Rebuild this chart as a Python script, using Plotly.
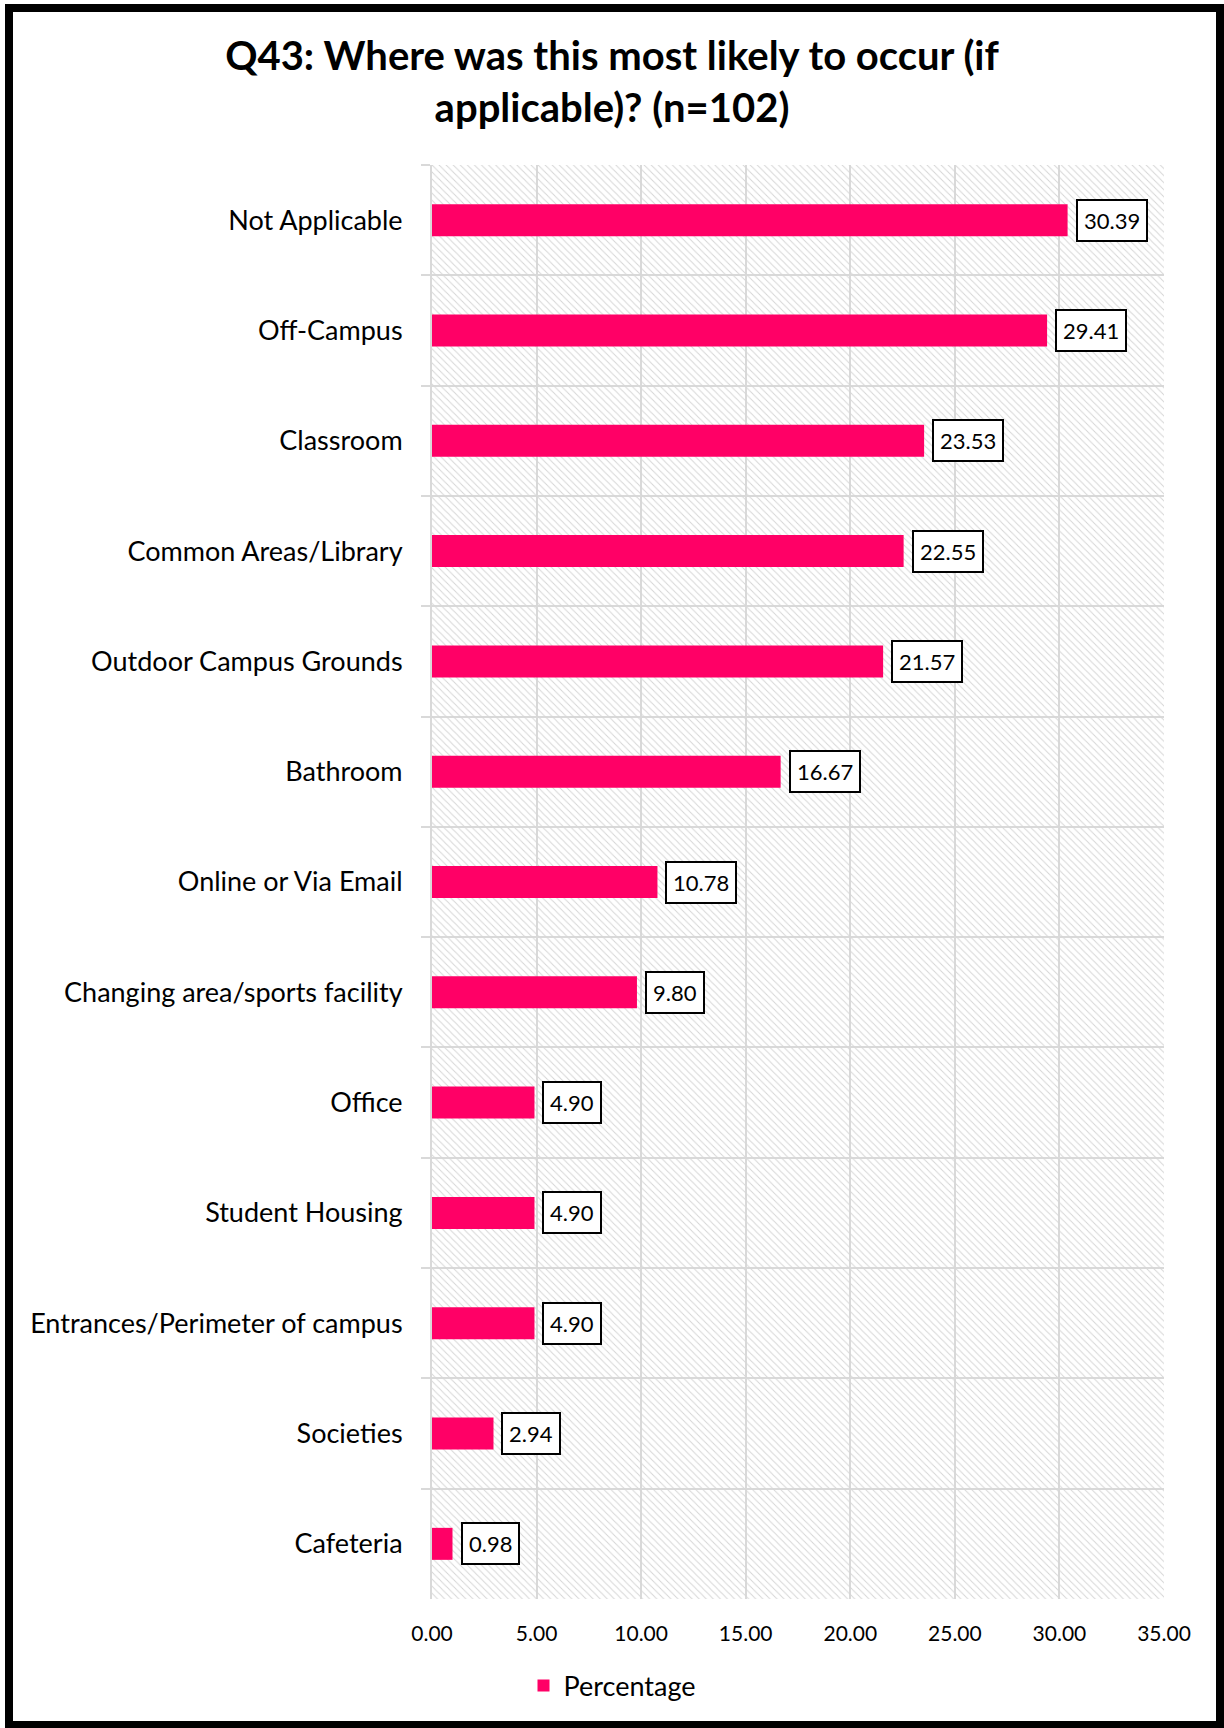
import plotly.graph_objects as go

categories = [
    "Not Applicable", "Off-Campus", "Classroom", "Common Areas/Library",
    "Outdoor Campus Grounds", "Bathroom", "Online or Via Email",
    "Changing area/sports facility", "Office", "Student Housing",
    "Entrances/Perimeter of campus", "Societies", "Cafeteria",
]
percentages = [30.39, 29.41, 23.53, 22.55, 21.57, 16.67, 10.78, 9.80, 4.90, 4.90, 4.90, 2.94, 0.98]
x_ticks = [0, 5, 10, 15, 20, 25, 30, 35]
x_tick_labels = ["0.00", "5.00", "10.00", "15.00", "20.00", "25.00", "30.00", "35.00"]
X_MAX = 35

W, H = 1224, 1728
ML, MR, MT, MB = 432, 60, 165, 129
PW, PH = W - ML - MR, H - MT - MB

FONT = "Lato"
PINK = "#FF0066"
GRID = "#d9d9d9"

fig = go.Figure()

# hatched plot background
fig.add_trace(go.Bar(
    y=categories, x=[X_MAX] * len(categories), orientation="h", width=1,
    marker=dict(color="rgba(255,255,255,0)", line=dict(width=0),
                pattern=dict(shape="\\", fgcolor="#d6d6d6", bgcolor="rgba(255,255,255,0)",
                             size=5, solidity=0.2, fillmode="replace")),
    showlegend=False, hoverinfo="skip",
))

fig.add_trace(go.Bar(
    y=categories, x=percentages, orientation="h", width=0.29,
    marker=dict(color=PINK, line=dict(width=0)),
    name="Percentage",
))

for c, v in zip(categories, percentages):
    fig.add_annotation(
        x=v, y=c, text=f"{v:.2f}", showarrow=False, xanchor="left", xshift=8,
        font=dict(family=FONT, size=22, color="black"),
        bordercolor="black", borderwidth=2, borderpad=6, bgcolor="white",
    )

def px_x(p):
    return (p - ML) / PW

def px_y(p):
    return (H - MB - p) / PH

fig.add_shape(type="rect", xref="paper", yref="paper",
              x0=px_x(9), x1=px_x(1220), y0=px_y(1725), y1=px_y(8),
              line=dict(color="black", width=8), fillcolor="rgba(0,0,0,0)")

fig.update_layout(
    width=W, height=H,
    margin=dict(l=ML, r=MR, t=MT, b=MB),
    paper_bgcolor="white", plot_bgcolor="white",
    barmode="overlay",
    title=dict(text="Q43: Where was this most likely to occur (if<br>applicable)? (n=102)",
               x=0.5, xref="container", xanchor="center",
               y=1 - 70 / H, yref="container", yanchor="middle",
               font=dict(family=FONT, size=40, color="black", weight="bold")),
    xaxis=dict(range=[0, X_MAX], tickvals=x_ticks, ticktext=x_tick_labels,
               showgrid=True, gridcolor=GRID, gridwidth=2,
               zeroline=False, showline=False, ticks="",
               tickfont=dict(family=FONT, size=21, color="black"),
               ticklabelstandoff=20),
    yaxis=dict(categoryorder="array", categoryarray=categories,
               range=[len(categories) - 0.5, -0.5],
               tickson="boundaries", showgrid=True, gridcolor=GRID, gridwidth=2,
               ticks="outside", ticklen=9, tickcolor=GRID, tickwidth=2,
               showline=True, linecolor=GRID, linewidth=2,
               tickfont=dict(family=FONT, size=27, color="black"),
               ticklabelstandoff=22),
    legend=dict(orientation="h", xref="container", yref="container",
                x=0.5, xanchor="center", y=(H - 1686) / H, yanchor="middle",
                bgcolor="rgba(0,0,0,0)",
                font=dict(family=FONT, size=27, color="black")),
    showlegend=True,
)

fig.write_html("out.html", config={"displayModeBar": False},
               post_script="document.body.style.margin='0px';document.body.style.overflow='hidden';")
